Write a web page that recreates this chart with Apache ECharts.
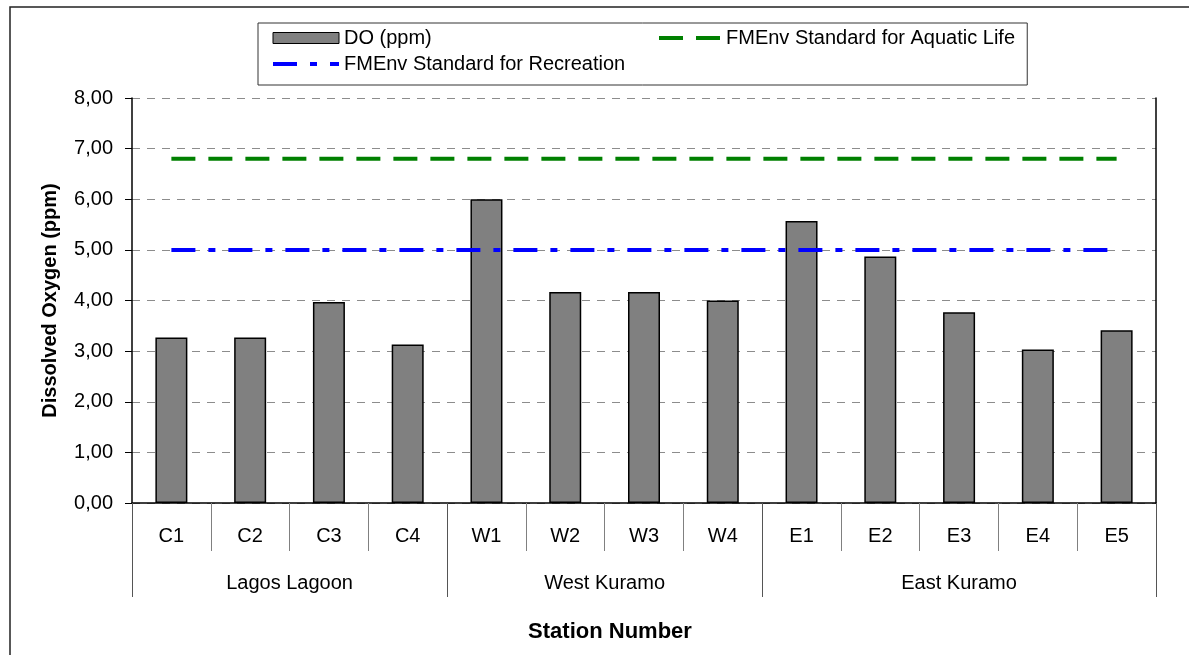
<!DOCTYPE html>
<html>
<head>
<meta charset="utf-8">
<title>Dissolved Oxygen by Station</title>
<script src="https://cdn.jsdelivr.net/npm/echarts@6/dist/echarts.min.js"></script>
<style>
  html, body { margin: 0; padding: 0; background: #ffffff; }
  #chart { width: 1189px; height: 655px; }
</style>
</head>
<body>
<div id="chart"></div>
<script>
// Station codes along the shoreline
const stations = ['C1', 'C2', 'C3', 'C4', 'W1', 'W2', 'W3', 'W4', 'E1', 'E2', 'E3', 'E4', 'E5'];
// Sampling areas and how many stations each one covers
const groupNames = ['Lagos Lagoon', 'West Kuramo', 'East Kuramo'];
const groupSizes = [4, 4, 5];
// Measured dissolved oxygen (ppm)
const doValues = [3.27, 3.27, 3.97, 3.13, 6.00, 4.17, 4.17, 4.00, 5.57, 4.87, 3.77, 3.03, 3.41];
// FMEnv limits at every station (ppm)
const aquaticStd = [6.8, 6.8, 6.8, 6.8, 6.8, 6.8, 6.8, 6.8, 6.8, 6.8, 6.8, 6.8, 6.8];
const recreationStd = [5, 5, 5, 5, 5, 5, 5, 5, 5, 5, 5, 5, 5];
// Value axis range
const yMin = 0, yMax = 8, yStep = 1;

const seriesNames = {
  doName: 'DO (ppm)',
  aquatic: 'FMEnv Standard for Aquatic Life',
  recreation: 'FMEnv Standard for Recreation'
};

// Group boundaries and centres on a 0..N scale for the second label row
const groupEdges = [0];
groupSizes.forEach(n => groupEdges.push(groupEdges[groupEdges.length - 1] + n));
const groupCentres = groupSizes.map((n, i) => groupEdges[i] + n / 2);

const FONT = '"Liberation Sans", Arial, sans-serif';
const chart = echarts.init(document.getElementById('chart'), null, { renderer: 'canvas' });

const hiddenSymbol = { opacity: 0, color: 'rgba(0,0,0,0)', borderWidth: 0 };

chart.setOption({
  animation: false,
  backgroundColor: '#ffffff',
  textStyle: { fontFamily: FONT, color: '#000' },
  graphic: [{
    type: 'rect',
    silent: true,
    z: -10,
    shape: { x: 10, y: 7, width: 1220, height: 700 },
    style: { fill: 'none', stroke: '#222', lineWidth: 1.5 }
  }],
  grid: { left: 132, right: 33, top: 98, bottom: 152, containLabel: false },
  legend: [{
    orient: 'vertical',
    left: 258,
    top: 23,
    padding: [5, 402, 11, 13],
    itemGap: 6,
    itemWidth: 66,
    itemHeight: 11,
    borderColor: '#333',
    borderWidth: 1,
    selectedMode: false,
    textStyle: { fontFamily: FONT, fontSize: 20, color: '#000' },
    data: [
      { name: seriesNames.doName, icon: 'rect', itemStyle: { borderWidth: 1, borderColor: '#000' } },
      { name: seriesNames.recreation, itemStyle: hiddenSymbol, lineStyle: { width: 4 } }
    ]
  }, {
    orient: 'horizontal',
    left: 657,
    top: 28,
    padding: 0,
    itemWidth: 62,
    itemHeight: 11,
    selectedMode: false,
    textStyle: { fontFamily: FONT, fontSize: 20, color: '#000' },
    data: [
      { name: seriesNames.aquatic, itemStyle: hiddenSymbol, lineStyle: { width: 4 } }
    ]
  }],
  xAxis: [{
    type: 'category',
    data: stations,
    position: 'bottom',
    axisLine: { show: true, lineStyle: { color: '#000', width: 1.5 } },
    axisTick: { show: true, interval: 0, length: 48, lineStyle: { color: '#808080', width: 1 } },
    axisLabel: {
      interval: 0, margin: 33, verticalAlign: 'middle',
      fontFamily: FONT, fontSize: 20, color: '#000'
    },
    splitLine: { show: false }
  }, {
    type: 'value',
    min: 0,
    max: groupEdges[groupEdges.length - 1],
    position: 'bottom',
    axisLine: { show: false },
    axisTick: { show: true, customValues: groupEdges, length: 94, lineStyle: { color: '#555', width: 1 } },
    axisLabel: {
      customValues: groupCentres,
      margin: 80,
      verticalAlign: 'middle',
      fontFamily: FONT, fontSize: 20, color: '#000',
      formatter: v => groupNames[groupCentres.indexOf(v)] || ''
    },
    splitLine: { show: false },
    name: 'Station Number',
    nameLocation: 'middle',
    nameGap: 118,
    nameTextStyle: {
      fontFamily: FONT, fontSize: 22, fontWeight: 'bold', color: '#000',
      padding: [0, 68, 0, 0]
    }
  }],
  yAxis: [{
    type: 'value',
    min: yMin,
    max: yMax,
    interval: yStep,
    axisLine: { show: true, lineStyle: { color: '#000', width: 1.5 } },
    axisTick: { show: true, inside: false, length: 7, lineStyle: { color: '#000', width: 1 } },
    axisLabel: {
      margin: 19, fontFamily: FONT, fontSize: 20, color: '#000',
      formatter: v => v.toFixed(2).replace('.', ',')
    },
    splitLine: { show: true, lineStyle: { color: '#8c8c8c', width: 1, type: [8, 7] } },
    name: 'Dissolved Oxygen (ppm)',
    nameLocation: 'middle',
    nameRotate: 90,
    nameGap: 72,
    nameTextStyle: { fontFamily: FONT, fontSize: 20, fontWeight: 'bold', color: '#000' }
  }, {
    type: 'value',
    position: 'right',
    min: yMin,
    max: yMax,
    interval: yStep,
    axisLine: { show: true, lineStyle: { color: '#000', width: 1.5 } },
    axisTick: { show: false },
    axisLabel: { show: false },
    splitLine: { show: false }
  }],
  series: [{
    name: seriesNames.doName,
    type: 'bar',
    xAxisIndex: 0,
    yAxisIndex: 0,
    data: doValues,
    barWidth: 32,
    itemStyle: { color: '#808080', borderColor: '#000', borderWidth: 1.5 },
    z: 2
  }, {
    name: seriesNames.aquatic,
    type: 'line',
    xAxisIndex: 0,
    yAxisIndex: 0,
    data: aquaticStd,
    symbol: 'none',
    color: '#008000',
    lineStyle: { color: '#008000', width: 4, type: [24, 13] },
    z: 3
  }, {
    name: seriesNames.recreation,
    type: 'line',
    xAxisIndex: 0,
    yAxisIndex: 0,
    data: recreationStd,
    symbol: 'none',
    color: '#0000ff',
    lineStyle: { color: '#0000ff', width: 4, type: [24, 13, 7, 13] },
    z: 3
  }]
});
</script>
</body>
</html>
